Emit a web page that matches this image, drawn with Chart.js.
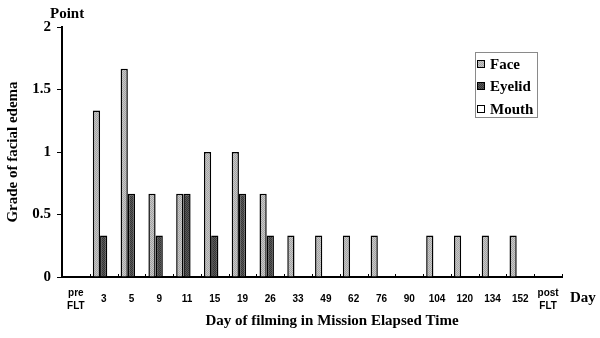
<!DOCTYPE html>
<html>
<head>
<meta charset="utf-8">
<script src="https://cdn.jsdelivr.net/npm/chart.js@4.4.1/dist/chart.umd.min.js"></script>
<style>
html, body { margin: 0; padding: 0; background: #fff; }
</style>
</head>
<body>
<canvas id="grafikedema" width="600" height="338"></canvas>
<script>
// data
var hari = [['pre', 'FLT'], '3', '5', '9', '11', '15', '19', '26', '33', '49', '62', '76', '90', '104', '120', '134', '152', ['post', 'FLT']];
var nilaiFace = [0, 1.333, 1.667, 0.667, 0.667, 1, 1, 0.667, 0.333, 0.333, 0.333, 0.333, 0, 0.333, 0.333, 0.333, 0.333, 0];
var nilaiEyelid = [0, 0.333, 0.667, 0.333, 0.667, 0.333, 0.667, 0.333, 0, 0, 0, 0, 0, 0, 0, 0, 0, 0];
var nilaiMouth = [0, 0, 0, 0, 0, 0, 0, 0, 0, 0, 0, 0, 0, 0, 0, 0, 0, 0];
var labelSeri = ['Face', 'Eyelid', 'Mouth'];
var tickY = [0, 0.5, 1, 1.5, 2];

var serif = '"Liberation Serif", "Times New Roman", serif';
var sans = '"Liberation Sans", Arial, sans-serif';

// bikin pola titik-titik seperti gambar asli
function buatPola(c1, c2) {
	var cv = document.createElement('canvas');
	cv.width = 2; cv.height = 2;
	var g = cv.getContext('2d');
	g.fillStyle = c1; g.fillRect(0, 0, 2, 2);
	g.fillStyle = c2; g.fillRect(0, 0, 1, 1); g.fillRect(1, 1, 1, 1);
	return g.createPattern(cv, 'repeat');
}
var ctx = document.getElementById('grafikedema').getContext('2d');
var warna = {
	face: buatPola('#c8c8c8', '#a4a4a4'),
	eyelid: buatPola('#5a5a5a', '#363636'),
	mouth: '#ffffff'
};

var teksTambahan = {
	id: 'teksTambahan',
	afterDraw: function(chart) {
		var c = chart.ctx;
		var sx = chart.scales.x;
		var area = chart.chartArea;
		c.save();
		// tick kecil ke atas di batas kategori
		c.strokeStyle = '#000';
		c.lineWidth = 1;
		var lebar = sx.getPixelForValue(1) - sx.getPixelForValue(0);
		for (var i = 0; i <= hari.length; i++) {
			var px = Math.round(sx.getPixelForValue(i) - lebar / 2) + 0.5;
			c.beginPath();
			c.moveTo(px, area.bottom);
			c.lineTo(px, area.bottom - 3);
			c.stroke();
		}
		c.fillStyle = '#000';
		c.font = 'bold 15px ' + serif;
		c.textBaseline = 'middle';
		c.textAlign = 'left';
		c.fillText('Point', 50, 14);
		c.fillText('Day', 570, 298);
		c.textAlign = 'center';
		c.fillText('Day of filming in Mission Elapsed Time', 332, 321);

		// legenda
		c.strokeStyle = '#8a8a8a';
		c.strokeRect(475.5, 52.5, 62, 65);
		var isi = [warna.face, warna.eyelid, warna.mouth];
		var ys = [64, 86, 109];
		c.textAlign = 'left';
		for (var k = 0; k < labelSeri.length; k++) {
			c.fillStyle = isi[k];
			c.fillRect(477, ys[k] - 4, 8, 8);
			c.strokeStyle = '#000';
			c.lineWidth = 1;
			c.strokeRect(477.5, ys[k] - 3.5, 7, 7);
			c.fillStyle = '#000';
			c.fillText(labelSeri[k], 490, ys[k] + 1);
		}
		c.restore();
	}
};

var grafikku = new Chart(ctx, {
	type: 'bar',
	data: {
		labels: hari,
		datasets: [
			{ label: labelSeri[0], data: nilaiFace, backgroundColor: warna.face, borderColor: '#000', borderWidth: 1.5 },
			{ label: labelSeri[1], data: nilaiEyelid, backgroundColor: warna.eyelid, borderColor: '#000', borderWidth: 1.5 },
			{ label: labelSeri[2], data: nilaiMouth, backgroundColor: warna.mouth, borderColor: '#000', borderWidth: 1.5 }
		]
	},
	options: {
		responsive: false,
		animation: false,
		events: [],
		layout: { padding: { left: 0, top: 27, right: 38, bottom: 0 } },
		datasets: { bar: { categoryPercentage: 0.78, barPercentage: 1.0 } },
		plugins: {
			legend: { display: false },
			tooltip: { enabled: false }
		},
		scales: {
			x: {
				offset: true,
				grid: { display: false },
				border: { color: '#000', width: 2 },
				ticks: {
					autoSkip: false,
					maxRotation: 0,
					minRotation: 0,
					padding: 8,
					crossAlign: 'center',
					color: '#000',
					font: { family: sans, size: 10, weight: 'bold', lineHeight: 1.3 }
				},
				afterFit: function(s) { s.height = 61; }
			},
			y: {
				min: 0,
				max: 2,
				afterBuildTicks: function(s) { s.ticks = tickY.map(function(v) { return { value: v }; }); },
				grid: { drawOnChartArea: false, tickLength: 5, color: '#000', lineWidth: 1 },
				border: { color: '#000', width: 2 },
				ticks: {
					padding: 6,
					color: '#000',
					font: { family: serif, size: 15, weight: 'bold' },
					callback: function(v) { return String(v); }
				},
				title: {
					display: true,
					text: 'Grade of facial edema',
					color: '#000',
					padding: { top: 4, bottom: 0 },
					font: { family: serif, size: 15, weight: 'bold' }
				},
				afterFit: function(s) { s.width = 62; }
			}
		}
	},
	plugins: [teksTambahan]
});
</script>
</body>
</html>
